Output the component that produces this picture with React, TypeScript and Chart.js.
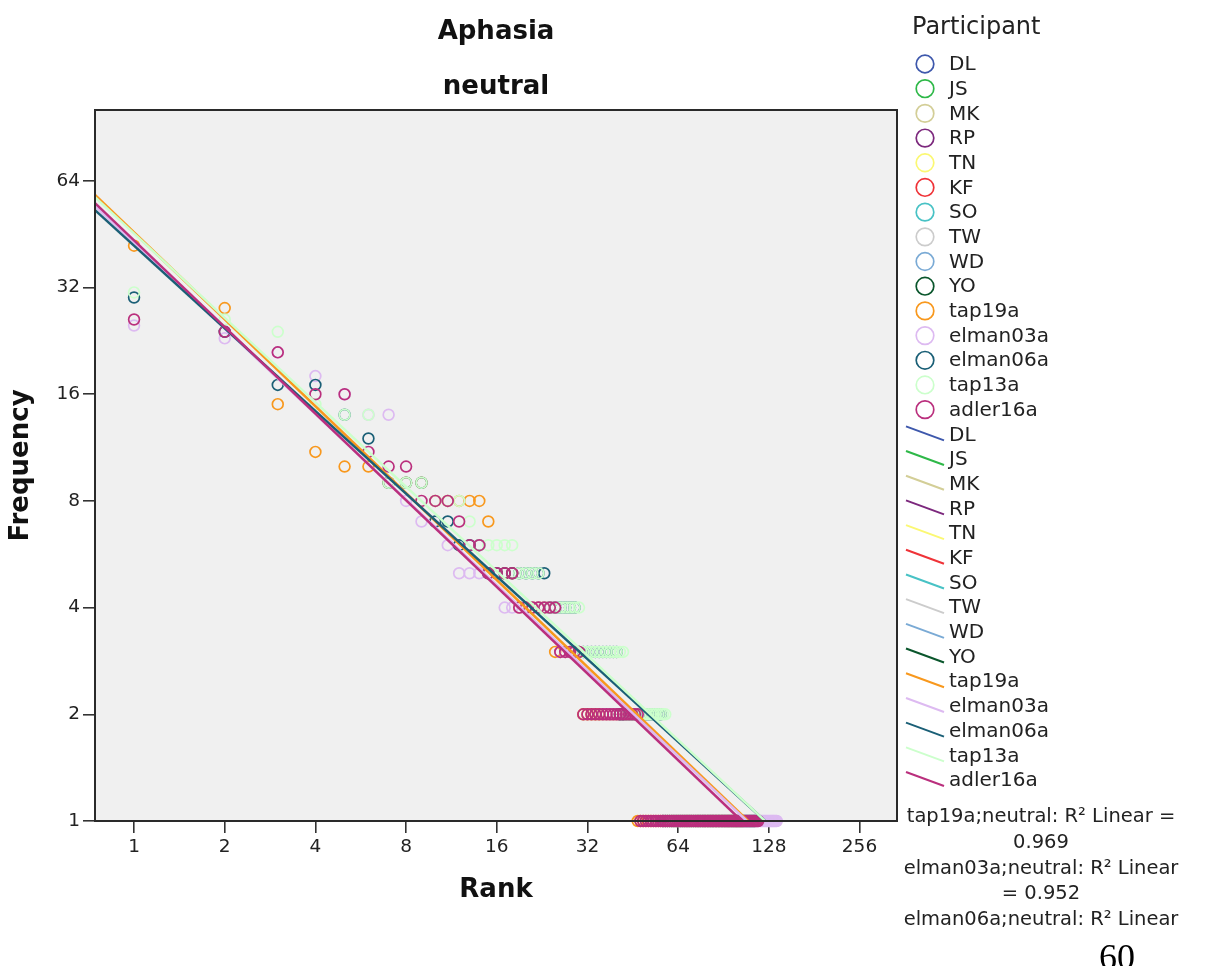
import React, { useEffect, useRef } from "react";
import { Chart, registerables } from "chart.js";

Chart.register(...registerables);

// ---------------- data ----------------
const participants = [
  "DL", "JS", "MK", "RP", "TN", "KF", "SO", "TW", "WD", "YO",
  "tap19a", "elman03a", "elman06a", "tap13a", "adler16a",
];
const participantColors = [
  "#3E58AC", "#2EB848", "#D3CE97", "#7C287D", "#FBF873", "#EF3338", "#48C2C5",
  "#CCCCCC", "#7AAAD5", "#0A562C", "#F8981D", "#DDBAF1", "#1A5F76", "#CCFFCC", "#BA2F7D",
];

// frequency runs: [frequency, number of consecutive ranks with that frequency]
const tap19aRuns = [[42, 1], [28, 1], [15, 1], [11, 1], [10, 2], [9, 3], [8, 5], [7, 1], [5, 3], [4, 6], [3, 6], [2, 16], [1, 59]];
const elman03aRuns = [[25, 1], [23, 1], [21, 1], [18, 1], [16, 1], [14, 2], [8, 1], [7, 2], [6, 1], [5, 5], [4, 9], [3, 10], [2, 17], [1, 84]];
const elman06aRuns = [[30, 1], [24, 1], [17, 2], [14, 1], [12, 1], [9, 3], [7, 2], [6, 3], [5, 9], [4, 6], [3, 11], [2, 16], [1, 59]];
const tap13aRuns = [[31, 1], [26, 1], [24, 1], [15, 1], [14, 2], [9, 3], [8, 3], [7, 1], [6, 5], [5, 4], [4, 8], [3, 12], [2, 16], [1, 58]];
const adler16aRuns = [[26, 1], [24, 1], [21, 1], [16, 2], [11, 1], [10, 2], [8, 3], [7, 1], [6, 2], [5, 4], [4, 7], [3, 5], [2, 17], [1, 71]];

const runsByParticipant: Record<string, number[][]> = {
  tap19a: tap19aRuns,
  elman03a: elman03aRuns,
  elman06a: elman06aRuns,
  tap13a: tap13aRuns,
  adler16a: adler16aRuns,
};

// fit lines: frequency at the left edge, rank where the line reaches frequency 1
const fitParticipants = ["tap19a", "elman03a", "elman06a", "tap13a", "adler16a"];
const fitStartFreq = [58.4, 54.3, 52.9, 57.6, 55.4];
const fitEndRank = [109.3, 108.2, 124.4, 124.4, 104.1];

const xTickValues = [1, 2, 4, 8, 16, 32, 64, 128, 256];
const yTickValues = [1, 2, 4, 8, 16, 32, 64];
const X_MIN = 0.742;
const X_MAX = 341;
const Y_MIN = 1;
const Y_MAX = 101.4;

const rSquaredLines = [
  "tap19a;neutral: R\u00B2 Linear =",
  "0.969",
  "elman03a;neutral: R\u00B2 Linear",
  "= 0.952",
  "elman06a;neutral: R\u00B2 Linear",
];

const FONT = "'DejaVu Sans', sans-serif";

function expandRuns(runs: number[][] | undefined) {
  const pts: { x: number; y: number }[] = [];
  if (!runs) return pts;
  let rank = 1;
  for (const [freq, count] of runs) {
    for (let k = 0; k < count; k++) {
      pts.push({ x: rank, y: freq });
      rank++;
    }
  }
  return pts;
}

const decorPlugin = {
  id: "decor",
  beforeDatasetsDraw(chart: any) {
    const { ctx, chartArea: a } = chart;
    ctx.save();
    ctx.fillStyle = "#f0f0f0";
    ctx.fillRect(a.left, a.top, a.right - a.left, a.bottom - a.top);
    ctx.restore();
  },
  afterDatasetsDraw(chart: any) {
    const { ctx, chartArea: a } = chart;
    ctx.save();
    ctx.strokeStyle = "#2a2a2a";
    ctx.lineWidth = 2;
    ctx.strokeRect(a.left, a.top, a.right - a.left, a.bottom - a.top);
    ctx.restore();
  },
  afterDraw(chart: any) {
    const { ctx } = chart;
    ctx.save();
    // legend title
    ctx.fillStyle = "#222";
    ctx.textBaseline = "middle";
    ctx.textAlign = "left";
    ctx.font = `24px ${FONT}`;
    ctx.fillText("Participant", 912, 28);
    ctx.font = `20px ${FONT}`;
    const step = 24.69;
    const datasets = chart.data.datasets;
    const scatterSets = datasets.filter((d: any) => d.type === "scatter");
    const lineSets = datasets.filter((d: any) => d.type === "line");
    scatterSets.forEach((d: any, i: number) => {
      const y = 64 + i * step;
      ctx.beginPath();
      ctx.arc(925, y, 8.8, 0, Math.PI * 2);
      ctx.strokeStyle = d.borderColor;
      ctx.lineWidth = 1.7;
      ctx.stroke();
      ctx.fillStyle = "#222";
      ctx.fillText(d.label, 949, y + 1);
    });
    lineSets.forEach((d: any, i: number) => {
      const y = 64 + (i + scatterSets.length) * step;
      ctx.beginPath();
      ctx.moveTo(906, y - 8);
      ctx.lineTo(944, y + 6);
      ctx.strokeStyle = d.borderColor;
      ctx.lineWidth = 2;
      ctx.stroke();
      ctx.fillStyle = "#222";
      ctx.fillText(d.label, 949, y + 1);
    });
    // R squared notes
    ctx.textAlign = "center";
    ctx.font = `19.5px ${FONT}`;
    rSquaredLines.forEach((t, i) => {
      ctx.fillText(t, 1041, 817 + i * 25.8);
    });
    ctx.restore();
  },
};

export default function App() {
  const canvasRef = useRef<HTMLCanvasElement | null>(null);

  useEffect(() => {
    const canvas = canvasRef.current;
    if (!canvas) return;

    const scatterSets = participants.map((p, i) => ({
      type: "scatter" as const,
      label: p,
      data: expandRuns(runsByParticipant[p]),
      borderColor: participantColors[i],
      backgroundColor: "rgba(0,0,0,0)",
      pointBackgroundColor: "rgba(0,0,0,0)",
      pointBorderColor: participantColors[i],
      pointRadius: 5.4,
      pointBorderWidth: 1.7,
      pointStyle: "circle",
      showLine: false,
      clip: false as any,
      order: 100 - i,
    }));

    const lineSets = participants.map((p, i) => {
      const fi = fitParticipants.indexOf(p);
      const data = fi >= 0
        ? [{ x: X_MIN, y: fitStartFreq[fi] }, { x: fitEndRank[fi], y: 1 }]
        : [];
      return {
        type: "line" as const,
        label: p,
        data,
        borderColor: participantColors[i],
        backgroundColor: participantColors[i],
        borderWidth: 2.5,
        pointRadius: 0,
        fill: false,
        tension: 0,
        order: 50 - i,
      };
    });

    const tickFont = { family: FONT, size: 18.5 };
    const titleFont = { family: FONT, size: 26, weight: "bold" as const };

    const chart = new Chart(canvas, {
      type: "scatter",
      data: { datasets: [...scatterSets, ...lineSets] as any },
      options: {
        animation: false,
        responsive: false,
        devicePixelRatio: 1,
        events: [],
        layout: { padding: { left: 0, right: 310, top: 0, bottom: 0 } },
        plugins: {
          legend: { display: false },
          tooltip: { enabled: false },
          title: {
            display: true,
            text: "Aphasia",
            fullSize: false,
            color: "#111",
            font: titleFont,
            padding: { top: 16.4, bottom: 10 },
          },
          subtitle: {
            display: true,
            text: "neutral",
            fullSize: false,
            color: "#111",
            font: titleFont,
            padding: { top: 13.8, bottom: 7.4 },
          },
        },
        scales: {
          x: {
            type: "logarithmic",
            bounds: "data",
            min: X_MIN,
            max: X_MAX,
            afterBuildTicks: (s: any) => {
              s.ticks = xTickValues.map((v) => ({ value: v }));
            },
            afterFit: (s: any) => {
              s.height = 145;
            },
            ticks: {
              callback: (v: any) => String(v),
              font: tickFont,
              color: "#222",
              padding: 3,
              autoSkip: false,
              maxRotation: 0,
            },
            grid: {
              display: true,
              drawOnChartArea: false,
              drawTicks: true,
              tickLength: 12,
              color: "#333",
              lineWidth: 1.6,
            },
            border: { display: false },
            title: {
              display: true,
              text: "Rank",
              color: "#111",
              font: titleFont,
              padding: { top: 0, bottom: 60 },
            },
          } as any,
          y: {
            type: "logarithmic",
            bounds: "data",
            min: Y_MIN,
            max: Y_MAX,
            afterBuildTicks: (s: any) => {
              s.ticks = yTickValues.map((v) => ({ value: v }));
            },
            afterFit: (s: any) => {
              s.width = 95;
            },
            ticks: {
              callback: (v: any) => String(v),
              font: tickFont,
              color: "#222",
              padding: 3,
              autoSkip: false,
            },
            grid: {
              display: true,
              drawOnChartArea: false,
              drawTicks: true,
              tickLength: 12,
              color: "#333",
              lineWidth: 1.6,
            },
            border: { display: false },
            title: {
              display: true,
              text: "Frequency",
              color: "#111",
              font: titleFont,
              padding: { top: 6, bottom: 0 },
            },
          } as any,
        },
      },
      plugins: [decorPlugin],
    });

    return () => {
      chart.destroy();
    };
  }, []);

  return (
    <div
      style={{
        position: "fixed",
        left: 0,
        top: 0,
        width: 1207,
        height: 966,
        background: "#fff",
      }}
    >
      <canvas
        ref={canvasRef}
        width={1207}
        height={966}
        style={{ display: "block", width: 1207, height: 966 }}
      />
      <div
        style={{
          position: "absolute",
          left: 1099,
          top: 939,
          fontFamily: "'Liberation Serif', serif",
          fontSize: 36,
          lineHeight: 1,
          color: "#000",
        }}
      >
        60
      </div>
    </div>
  );
}
